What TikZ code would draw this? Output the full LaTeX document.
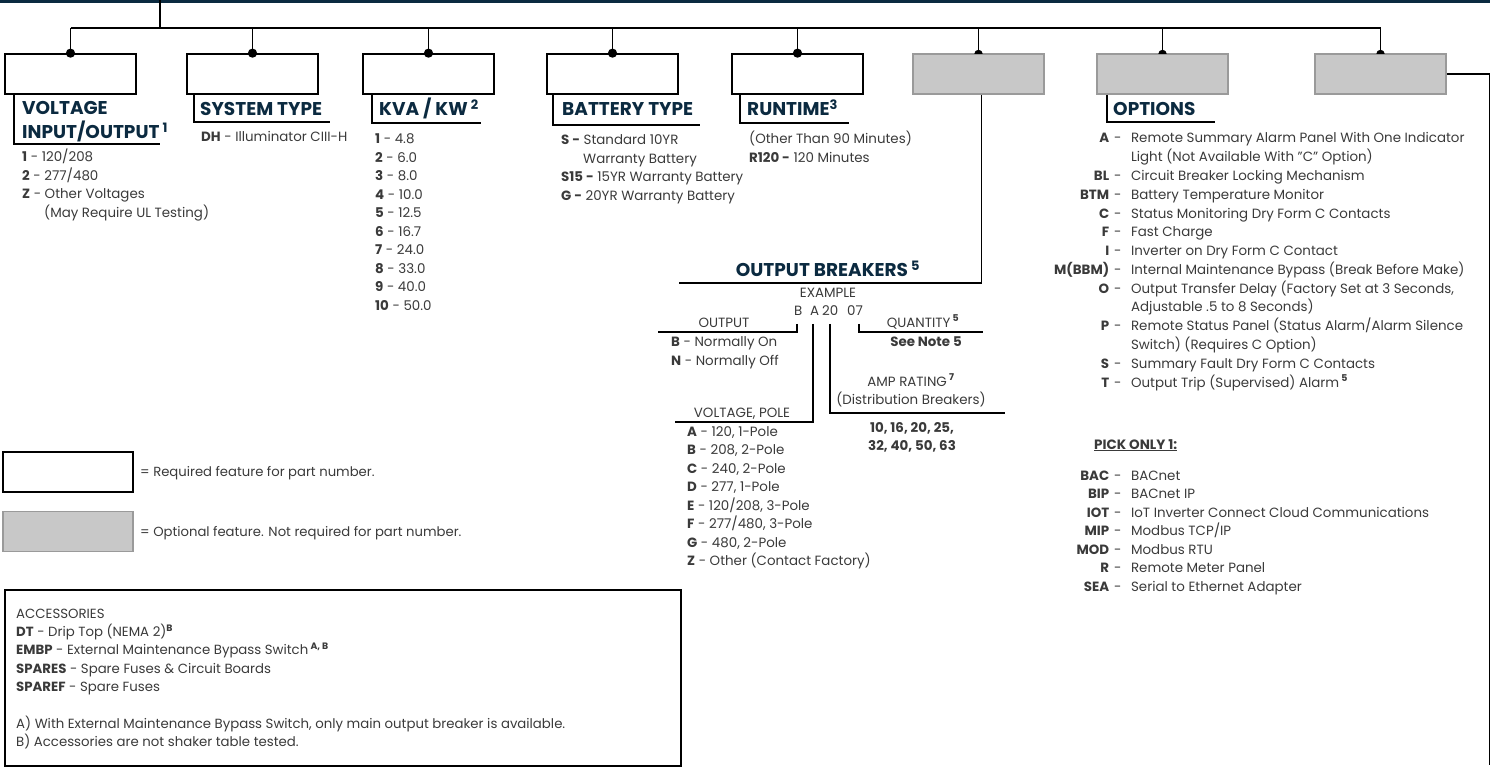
\documentclass[tikz,border=0pt]{standalone}
\usepackage{fontspec}
\setmainfont{Poppins}
\usetikzlibrary{calc, positioning}
\definecolor{navy}{HTML}{0B2A40}
\definecolor{bodygray}{HTML}{3A3A3A}
\definecolor{optfill}{HTML}{C8C8C8}
\definecolor{optline}{HTML}{9A9A9A}
\newcommand{\rows}[2]{\begin{tabular}[t]{@{}#1@{}}#2\end{tabular}}
\tikzset{
  reqbox/.style={shape=rectangle, minimum height=40pt, minimum width=131pt, draw=black, line width=1.7pt, fill=white, inner sep=0pt},
  optbox/.style={reqbox, draw=optline, fill=optfill},
  conn/.style={draw=black, line width=1.7pt},
  thin conn/.style={draw=black, line width=1.4pt},
  head/.style={anchor=base west, inner sep=0pt, text=navy, font=\fontsize{18.5}{21}\selectfont\bfseries},
  item/.style={anchor=base west, inner sep=0pt, text=bodygray, font=\fontsize{13.4}{18.5}\selectfont},
  small item/.style={item, font=\fontsize{13.3}{18.35}\selectfont},
}

\begin{document}
\begin{tikzpicture}[x=1pt, y=-1pt]
\useasboundingbox (0,0) rectangle (1497,767);
\draw[navy, line width=3pt] (0,1.5) -- (1490,1.5);
\coordinate (bus) at (0,28);
\coordinate (stem) at (160,0);
% code boxes
\foreach \i/\x in {1/70.5, 2/252.5, 3/428.5, 4/612.5, 5/797.5}{
	\node[reqbox] (b\i) at (\x,74) {};
}
\foreach \i/\x in {6/978.5, 7/1162.5, 8/1380.5}{
	\node[optbox] (b\i) at (\x,74) {};
}
\draw[conn] (stem) -- (stem |- bus);
\draw[conn] (b1.north |- bus) -- (b8.north |- bus);
\foreach \i in {1,...,8}{
	\draw[conn] (b\i.north |- bus) -- (b\i.north);
}
\foreach \i in {1,...,5}{
	\fill (b\i.north) circle (4.6pt);
}
\foreach \i in {6,7,8}{
	\fill ([xshift=-4.2pt, yshift=-0.8pt]b\i.north) arc[start angle=180, end angle=0, radius=4.2pt] -- cycle;
}

% headings
\draw[conn] ([xshift=10pt]b1.south west) |- (160,144);
\node[head] (h1) at (22,115) {\rows{l}{VOLTAGE\\INPUT/OUTPUT\,\textsuperscript{1}}};
\draw[conn] ([xshift=8pt]b2.south west) |- (330,122);
\node[head] (h2) at (200,116) {SYSTEM TYPE};
\draw[conn] ([xshift=10pt]b3.south west) |- (481,123);
\node[head] (h3) at (379,116) {KVA / KW\,\textsuperscript{2}};
\draw[conn] ([xshift=7pt]b4.south west) |- (700,125);
\node[head] (h4) at (562,116) {BATTERY TYPE};
\draw[conn] ([xshift=9pt]b5.south west) |- (849,123);
\node[head] (h5) at (747,116) {RUNTIME\textsuperscript{3}};
\draw[conn] ([xshift=11pt]b7.south west) |- (1215,122);
\node[head] (h7) at (1113,116) {OPTIONS};

% lists
\node[item] (l1) at (22,162) {\rows{l}{\textbf{1} - 120/208\\ \textbf{2} - 277/480\\ \textbf{Z} - Other Voltages\\ \hspace*{22pt}(May Require UL Testing)}};
\node[item] (l2) at (201,142) {\textbf{DH} - Illuminator CIII-H};
\node[item] (l3) at (375,144) {\rows{l}{\textbf{1} - 4.8\\ \textbf{2} - 6.0\\ \textbf{3} - 8.0\\ \textbf{4} - 10.0\\ \textbf{5} - 12.5\\ \textbf{6} - 16.7\\ \textbf{7} - 24.0\\ \textbf{8} - 33.0\\ \textbf{9} - 40.0\\ \textbf{10} - 50.0}};
\node[item] (l4) at (561,145) {\rows{l}{\textbf{S -} Standard 10YR\\ \hspace*{22pt}Warranty Battery\\ \textbf{S15 -} 15YR Warranty Battery\\ \textbf{G -} 20YR Warranty Battery}};
\node[item] (l5) at (749,144) {\rows{l}{(Other Than 90 Minutes)\\ \textbf{R120 -} 120 Minutes}};
\node[item, font=\fontsize{13.4}{18.77}\selectfont] (l7) at (1109,143) {\rows{l@{\hspace{5pt}}l@{\hspace{9.5pt}}l}{%
	\llap{\textbf{A}} & - & Remote Summary Alarm Panel With One Indicator\\
	& & Light (Not Available With "C" Option)\\
	\llap{\textbf{BL}} & - & Circuit Breaker Locking Mechanism\\
	\llap{\textbf{BTM}} & - & Battery Temperature Monitor\\
	\llap{\textbf{C}} & - & Status Monitoring Dry Form C Contacts\\
	\llap{\textbf{F}} & - & Fast Charge\\
	\llap{\textbf{I}} & - & Inverter on Dry Form C Contact\\
	\llap{\textbf{M(BBM)}} & - & Internal Maintenance Bypass (Break Before Make)\\
	\llap{\textbf{O}} & - & Output Transfer Delay (Factory Set at 3 Seconds,\\
	& & Adjustable .5 to 8 Seconds)\\
	\llap{\textbf{P}} & - & Remote Status Panel (Status Alarm/Alarm Silence\\
	& & Switch) (Requires C Option)\\
	\llap{\textbf{S}} & - & Summary Fault Dry Form C Contacts\\
	\llap{\textbf{T}} & - & Output Trip (Supervised) Alarm\,\textsuperscript{\textbf{5}}}};
\node[item, font=\fontsize{13.5}{14}\selectfont\bfseries] (pick) at (1094,449) {\underline{PICK ONLY 1:}};
\node[item] (l7b) at (1109,480) {\rows{l@{\hspace{5pt}}l@{\hspace{9.5pt}}l}{%
	\llap{\textbf{BAC}} & - & BACnet\\
	\llap{\textbf{BIP}} & - & BACnet IP\\
	\llap{\textbf{IOT}} & - & IoT Inverter Connect Cloud Communications\\
	\llap{\textbf{MIP}} & - & Modbus TCP/IP\\
	\llap{\textbf{MOD}} & - & Modbus RTU\\
	\llap{\textbf{R}} & - & Remote Meter Panel\\
	\llap{\textbf{SEA}} & - & Serial to Ethernet Adapter}};

% output breakers
\draw[conn] ([xshift=3pt]b6.south) |- (679,283);
\node[head, anchor=base] (h6) at (828,277) {OUTPUT BREAKERS\,\textsuperscript{5}};
\node[item, anchor=base] (ex) at (828,298) {EXAMPLE};
\node[item] (eB) at (794,316) {B};
\node[item] (eA) at (810,316) {A};
\node[item] (e20) at (822,316) {20};
\node[item] (e07) at (847,316) {07};
\draw[thin conn] (797,324) |- (658,332);
\draw[thin conn] (813,324) |- (675,422);
\draw[thin conn] (830,324) |- (1005,413);
\draw[thin conn] (859,324) |- (983,332);
\node[item, anchor=base] (tout) at (724,327) {OUTPUT};
\node[item] (lout) at (671,347) {\rows{l}{\textbf{B} - Normally On\\ \textbf{N} - Normally Off}};
\node[item, anchor=base] (tvp) at (742,417) {VOLTAGE, POLE};
\node[item] (lvp) at (687,436) {\rows{l}{\textbf{A} - 120, 1-Pole\\ \textbf{B} - 208, 2-Pole\\ \textbf{C} - 240, 2-Pole\\ \textbf{D} - 277, 1-Pole\\ \textbf{E} - 120/208, 3-Pole\\ \textbf{F} - 277/480, 3-Pole\\ \textbf{G} - 480, 2-Pole\\ \textbf{Z} - Other (Contact Factory)}};
\node[item, anchor=base] (tamp) at (911,386) {\rows{c}{AMP RATING\,\textsuperscript{\textbf{7}}\\ (Distribution Breakers)}};
\node[item, anchor=base, font=\fontsize{13.4}{18.5}\selectfont\bfseries] (lamp) at (912,432) {\rows{c}{10, 16, 20, 25,\\ 32, 40, 50, 63}};
\node[item, anchor=base] (tqty) at (923,327) {QUANTITY\,\textsuperscript{\textbf{5}}};
\node[item, anchor=base, font=\fontsize{13.4}{18.5}\selectfont\bfseries] (lqty) at (926,347) {See Note 5};

% right frame line
\draw[conn] (b8.east) -| (1489.5,765);

% legend
\node[reqbox, minimum width=130pt] (lreq) at (68,472) {};
\node[item, font=\fontsize{13.2}{18.5}\selectfont] at (140,476) {= Required feature for part number.};
\node[optbox, minimum width=130pt] (lopt) at (68,531.5) {};
\node[item, font=\fontsize{13.2}{18.5}\selectfont] at (140,536) {= Optional feature. Not required for part number.};

% accessories
\node[draw=black, line width=1.6pt, minimum width=676pt, minimum height=176pt, anchor=north west, inner sep=0pt] (acc) at (4,589) {};
\node[small item] (lacc) at (16,618) {\rows{l}{ACCESSORIES\\
	\textbf{DT} - Drip Top (NEMA 2)\textsuperscript{\textbf{B}}\\
	\textbf{EMBP} - External Maintenance Bypass Switch\,\textsuperscript{\textbf{A, B}}\\
	\textbf{SPARES} - Spare Fuses \& Circuit Boards\\
	\textbf{SPAREF} - Spare Fuses\\ \\
	A) With External Maintenance Bypass Switch, only main output breaker is available.\\
	B) Accessories are not shaker table tested.}};
\end{tikzpicture}
\end{document}
